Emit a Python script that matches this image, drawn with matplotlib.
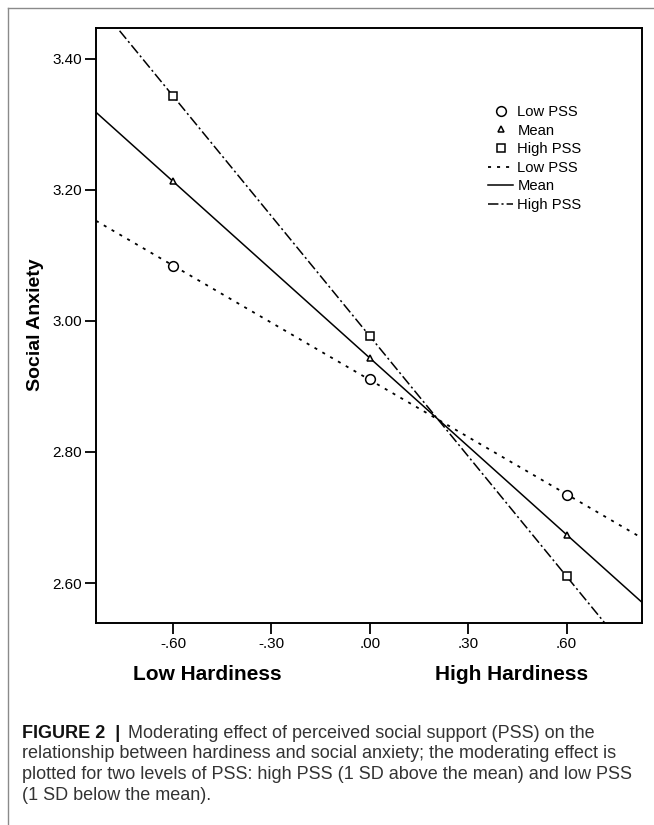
import numpy as np
import matplotlib
matplotlib.use("Agg")
import matplotlib.pyplot as plt
from matplotlib.lines import Line2D

plt.rcParams['font.family'] = ['Liberation Sans', 'DejaVu Sans']
plt.rcParams['lines.scale_dashes'] = False

# simple slopes
hardiness = [-0.60, 0.00, 0.60]
low_pss = [3.084, 2.911, 2.735]
mean_pss = [3.213, 2.943, 2.674]
high_pss = [3.343, 2.977, 2.610]

x_ticks = [-0.60, -0.30, 0.00, 0.30, 0.60]
x_tick_labels = ['-.60', '-.30', '.00', '.30', '.60']
y_ticks = [2.60, 2.80, 3.00, 3.20, 3.40]
y_tick_labels = ['2.60', '2.80', '3.00', '3.20', '3.40']

xlim = (-0.835, 0.83)
ylim = (2.539, 3.447)

W, H = 654, 825
fig = plt.figure(figsize=(W / 100, H / 100), dpi=100)
ax = fig.add_axes([96 / W, 1 - 623 / H, (642 - 96) / W, (623 - 28) / H])

styles = {
    'low': dict(color='black', lw=1.3, linestyle=(0, (2.2, 4.3))),
    'mean': dict(color='black', lw=1.1, linestyle='-'),
    'high': dict(color='black', lw=1.1, linestyle=(0, (7.5, 2.2, 1.5, 2.2))),
}
markers = {
    'low': dict(marker='o', ms=7),
    'mean': dict(marker='^', ms=5),
    'high': dict(marker='s', ms=5.5),
}
series = [('low', low_pss), ('mean', mean_pss), ('high', high_pss)]

xs = np.array(xlim)
for key, vals in series:
    slope, icpt = np.polyfit(hardiness, vals, 1)
    ax.plot(xs, slope * xs + icpt, **styles[key], zorder=2)
    ax.plot(hardiness, vals, linestyle='none', mfc='white', mec='black',
            mew=1.1, zorder=3, **markers[key])

ax.set_xlim(xlim)
ax.set_ylim(ylim)
ax.set_xticks(x_ticks)
ax.set_xticklabels(x_tick_labels)
ax.set_yticks(y_ticks)
ax.set_yticklabels(y_tick_labels)
ax.tick_params(direction='out', length=8, width=1.3, labelsize=11, pad=2)
for sp in ax.spines.values():
    sp.set_linewidth(1.4)

handles = [
    Line2D([], [], linestyle='none', mfc='white', mec='black', mew=1.1, **markers['low']),
    Line2D([], [], linestyle='none', mfc='white', mec='black', mew=1.1, **markers['mean']),
    Line2D([], [], linestyle='none', mfc='white', mec='black', mew=1.1, **markers['high']),
    Line2D([], [], **styles['low']),
    Line2D([], [], **styles['mean']),
    Line2D([], [], **styles['high']),
]
labels = ['Low PSS', 'Mean', 'High PSS', 'Low PSS', 'Mean', 'High PSS']
ax.legend(handles, labels, loc='upper left', bbox_to_anchor=(488 / W, 1 - 105 / H),
          bbox_transform=fig.transFigure, frameon=False, fontsize=10.6,
          handlelength=1.7, handletextpad=0.3, labelspacing=0.31,
          borderpad=0, borderaxespad=0)

fig.text(35 / W, 1 - 325 / H, 'Social Anxiety', rotation=90, fontsize=14,
         fontweight='bold', ha='center', va='center')
fig.text(207 / W, 1 - 675 / H, 'Low Hardiness', fontsize=15,
         fontweight='bold', ha='center', va='center')
fig.text(512 / W, 1 - 675 / H, 'High Hardiness', fontsize=15,
         fontweight='bold', ha='center', va='center')

# outer frame lines
fig.add_artist(Line2D([7.5 / W, 7.5 / W], [0, 1 - 8 / H], color='#8a8a8a', lw=1.0))
fig.add_artist(Line2D([7.5 / W, 1], [1 - 8 / H, 1 - 8 / H], color='#8a8a8a', lw=1.0))

# caption
cap_size = 13
t1 = fig.text(22 / W, 1 - 733 / H, 'FIGURE 2  |', fontsize=cap_size, fontweight='bold',
              color='#111111', ha='left', va='center')
ax.annotate(' Moderating effect of perceived social support (PSS) on the',
            xy=(1, 0.5), xycoords=t1, xytext=(2, 0), textcoords='offset points',
            fontsize=cap_size, color='#333333', ha='left', va='center',
            annotation_clip=False)
caption_lines = [
    'relationship between hardiness and social anxiety; the moderating effect is',
    'plotted for two levels of PSS: high PSS (1 SD above the mean) and low PSS',
    '(1 SD below the mean).',
]
for i, line in enumerate(caption_lines):
    fig.text(22 / W, 1 - (754 + 20.8 * i) / H, line, fontsize=cap_size,
             color='#333333', ha='left', va='center')

fig.savefig('out.png', dpi=100)
